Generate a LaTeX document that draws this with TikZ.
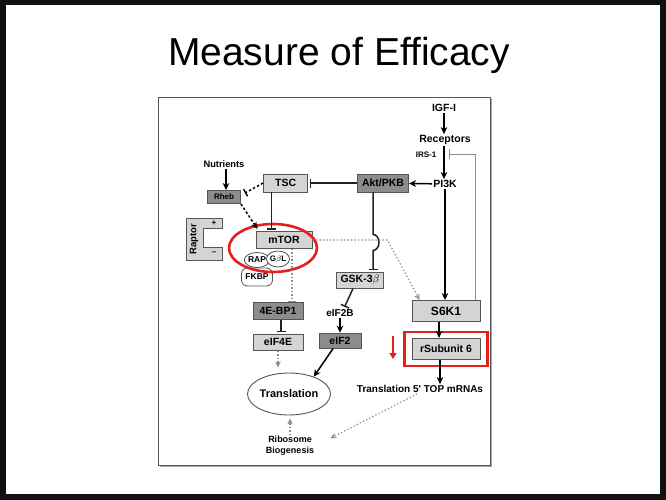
\documentclass[tikz,border=0pt]{standalone}
\usepackage{fontspec}
\setmainfont{Liberation Sans}
\usepackage{tikz}
\usetikzlibrary{arrows.meta,positioning,fit,calc,shapes.geometric}
\definecolor{FrameBlack}{HTML}{111111}
\definecolor{EdgeGray}{HTML}{555555}
\definecolor{SoftGray}{HTML}{D4D4D4}
\definecolor{DeepGray}{HTML}{8C8C8C}
\definecolor{DotGray}{HTML}{8E8E8E}
\definecolor{InkGray}{HTML}{222222}
\definecolor{MarkRed}{HTML}{E3201B}
\newcommand{\fz}[1]{\fontsize{#1}{#1}\selectfont}
\tikzset{
  BX/.style={rectangle,draw=EdgeGray,line width=0.9pt,inner sep=0pt,
             text centered,font=\bfseries\fz{10.5}},
  bL/.style={BX,fill=SoftGray},
  bD/.style={BX,fill=DeepGray},
  TX/.style={inner sep=1pt,font=\bfseries\fz{10.5}},
  bub/.style={ellipse,draw=EdgeGray,fill=white,line width=0.8pt,inner sep=0pt,
              minimum width=22pt,minimum height=15pt,font=\bfseries\fz{8.5}},
  pill/.style={rectangle,rounded corners=6pt,draw=EdgeGray,fill=white,line width=0.8pt,
               inner sep=0pt,minimum width=31pt,minimum height=18pt,font=\bfseries\fz{8.5}},
  ring/.style={ellipse,draw=MarkRed,line width=2.6pt,inner sep=0pt},
  arr/.style={-{Stealth[length=7pt,width=6.5pt,inset=2pt]},line width=1.5pt,draw=black},
  inh/.style={-{Bar[width=9pt,line width=1.5pt]},line width=1.5pt,draw=InkGray,shorten >=1.5pt},
  dsh/.style={dash pattern=on 2.4pt off 2.2pt,line width=1.5pt,draw=black},
  dot/.style={draw=DotGray,dash pattern=on 1.3pt off 2.2pt,line width=1.2pt},
  fbk/.style={-{Bar[width=10pt,line width=1pt]},draw=DotGray,line width=1pt}
}

\begin{document}
\begin{tikzpicture}[x=1pt,y=-1pt]
  % slide
  \fill[FrameBlack] (0,0) rectangle (666,500);
  \fill[white] (6,5) rectangle (660,494);
  \node[anchor=base,inner sep=0pt,font=\fz{39}] (title) at (339,66) {Measure of Efficacy};
  \fill[black!35] (160,99) rectangle (492,467);
  \filldraw[fill=white,draw=EdgeGray,line width=0.8pt] (158,97) rectangle (490,465);

  % receptor side
  \node[TX] (igf) at (444,108) {IGF-I};
  \node[TX] (rec) at (445,140) {Receptors};
  \node[TX,font=\bfseries\fz{8}] (irs) at (426,155) {IRS-1};
  \node[TX] (pik) at (445,184) {PI3K};
  \node[bD,minimum width=51pt,minimum height=18pt] (akt) at (383,183) {Akt/PKB};
  \node[bL,minimum width=44pt,minimum height=18pt,left=49pt of akt] (tsc) {TSC};

  % mTOR complex
  \node[TX,font=\bfseries\fz{9.3}] (nut) at (224,164) {Nutrients};
  \node[bD,minimum width=33pt,minimum height=13pt,font=\bfseries\fz{8}] (rheb) at (224,197) {Rheb};
  \filldraw[fill=SoftGray,draw=EdgeGray,line width=0.9pt]
    (186,218) -- (222,218) -- (222,228) -- (203,228) -- (203,247)
    -- (222,247) -- (222,260) -- (186,260) -- cycle;
  \node[TX,rotate=90,font=\bfseries\fz{9.5}] (rapt) at (194,239) {Raptor};
  \node[TX,font=\bfseries\fz{8}] (plus) at (214,223) {+};
  \node[TX,font=\bfseries\fz{8}] (minus) at (214,253) {--};
  \node[bL,minimum width=56pt,minimum height=17pt] (mtor) at (284,240) {mTOR};
  \node[bub] (rap) at (257,260) {RAP};
  \node[bub,minimum width=20pt,minimum height=16pt,font=\bfseries\fz{8}] (gbl) at (278,259) {G$\beta$L};
  \node[pill] (fkbp) at (257,277) {FKBP};
  \node[ring,minimum width=88pt,minimum height=48pt] (ring) at (273,248) {};

  % translation branch
  \node[bD,minimum width=50pt,minimum height=17pt] (bp1) at (278,311) {4E-BP1};
  \node[bL,minimum width=50pt,minimum height=16pt,below=14pt of bp1] (eif4e) {eIF4E};
  \node[ellipse,draw=EdgeGray,fill=white,line width=0.9pt,inner sep=0pt,
        minimum width=74pt,minimum height=42pt,font=\bfseries\fz{11}] (trans) at (289,394) {Translation};
  \node[TX,align=center,font=\bfseries\fz{9}] (ribo) at (290,446) {Ribosome\\[2pt]Biogenesis};
  \node[bL,minimum width=47pt,minimum height=16pt] (gsk) at (360,280) {GSK-3$\beta$};
  \node[TX,font=\bfseries\fz{10}] (e2b) at (340,313) {eIF2B};
  \node[bD,minimum width=42pt,minimum height=15pt,below=15pt of e2b] (eif2) {eIF2};

  % S6K1 branch
  \node[bL,minimum width=68pt,minimum height=21pt,font=\bfseries\fz{12}] (s6k) at (446,311) {S6K1};
  \node[bL,minimum width=68pt,minimum height=21pt,below=16pt of s6k] (rsu) {rSubunit 6};
  \node[draw=MarkRed,line width=2.6pt,fit=(rsu),inner xsep=7pt,inner ysep=6pt] (mark) {};
  \node[TX,font=\bfseries\fz{10}] (top) at (420,389) {Translation 5\textquotesingle{} TOP mRNAs};
  \coordinate (fbend) at (449,154);
  \coordinate (dnA) at (393,336);
  \coordinate (dnB) at (393,359);

  % connectors
  \draw[arr] (igf) -- (igf |- rec.north);
  \draw[arr] ([xshift=-1pt]rec.south) -- ([xshift=-1pt]pik.north);
  \draw[fbk] ([xshift=29pt]s6k.north) |- (fbend);
  \draw[arr] (pik) -- (akt);
  \draw[inh] (akt) -- (tsc);
  \draw[inh] ([xshift=-14pt]tsc.south) -- ([xshift=-14pt]tsc.south |- mtor.north);
  \draw[arr] ([xshift=2pt]nut.south) -- ([xshift=2pt]rheb.north);
  \draw[dsh,-{Bar[width=8pt,line width=1.4pt]}] (tsc.west) -- ($(rheb.east)+(4,-4)$);
  \draw[dsh,-{Stealth[length=7pt,width=6pt,inset=2pt]}] (rheb.south east) -- ($(mtor.north west)+(2,-2)$);
  \draw[dot,-{Bar[width=8pt,line width=1pt]}] ([xshift=8pt]mtor.south) -- ([xshift=8pt]mtor.south |- bp1.north);
  \draw[inh] ([xshift=3pt]bp1.south) -- ([xshift=3pt]eif4e.north);
  \draw[dot,-{Stealth[length=6pt,width=5.5pt,inset=2pt]},shorten >=5pt] (eif4e) -- (eif4e |- trans.north);
  \draw[arr] ([xshift=-7pt]eif2.south) -- (trans.35);
  \draw[dot,-{Stealth[length=6pt,width=5.5pt,inset=2pt]},shorten >=3pt] (ribo) -- (ribo |- trans.south);
  \draw[dot,-{Stealth[length=6pt,width=5.5pt,inset=2pt]},shorten >=17pt] ($(top.south)+(-3,0)$) -- (ribo.east);
  \draw[inh] ([xshift=-10pt]akt.south) -- ++(0,42)
    arc[start angle=-90,end angle=90,x radius=6,y radius=8]
    -- ([xshift=13pt]gsk.north);
  \draw[dot,-{Stealth[length=6pt,width=5.5pt,inset=2pt]}] (mtor.east) -- ++(75,0) -- ($(s6k.north west)+(8,0)$);
  \draw[arr] (pik) -- (pik |- s6k.north);
  \draw[inh] ([xshift=-7pt]gsk.south) -- ([xshift=4pt]e2b.north);
  \draw[arr] (e2b) -- (eif2);
  \draw[arr] ([xshift=-7pt]s6k.south) -- ([xshift=-7pt]rsu.north);
  \draw[arr] ([xshift=-6pt]rsu.south) -- ([xshift=-6pt]rsu.south |- top.north);
  \draw[-{Triangle[length=6pt,width=7pt]},draw=MarkRed,fill=MarkRed,line width=1.8pt] (dnA) -- (dnB);
\end{tikzpicture}
\end{document}
